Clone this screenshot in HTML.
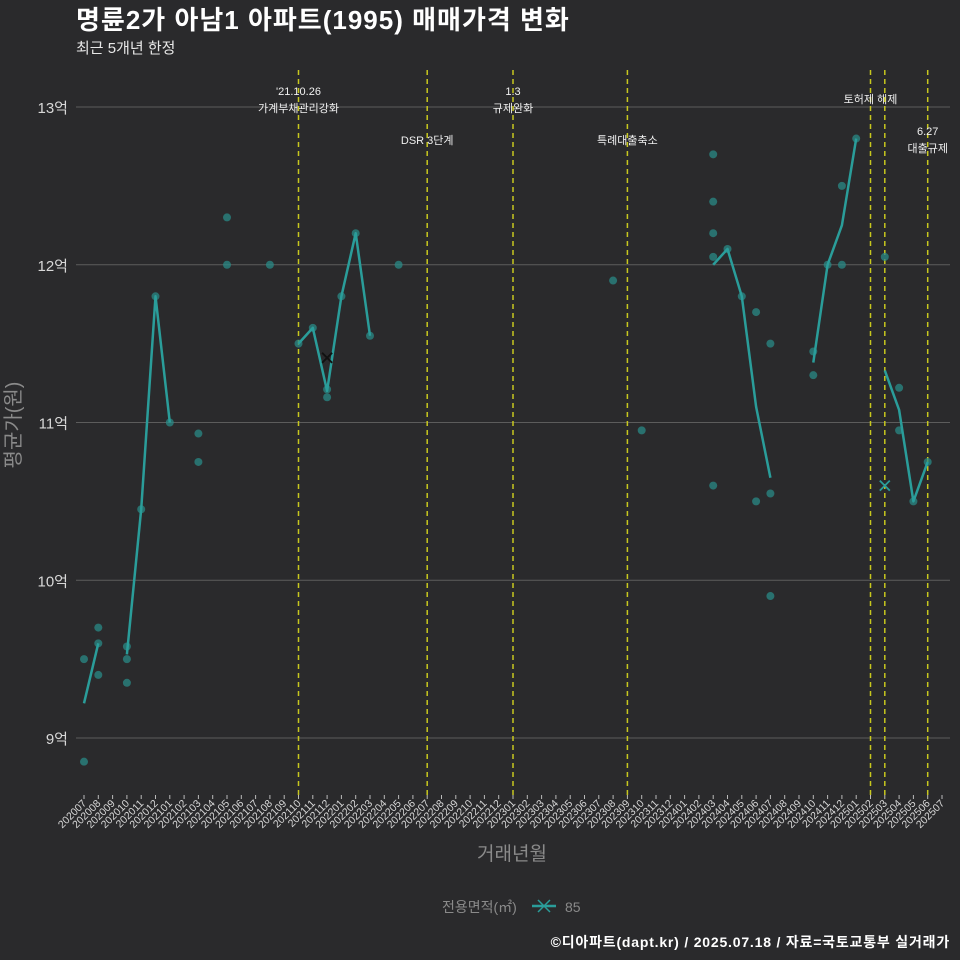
<!DOCTYPE html>
<html><head><meta charset="utf-8">
<style>
html,body{margin:0;padding:0;background:#2a2a2c;}
svg{display:block;font-family:"Liberation Sans","Noto Sans CJK KR",sans-serif;}
</style></head>
<body>
<svg id="chart" width="960" height="960" viewBox="0 0 960 960">
<rect x="0" y="0" width="960" height="960" fill="#2a2a2c"/>
<text x="76" y="29" fill="#ffffff" font-size="26" font-weight="bold" letter-spacing="1">명륜2가 아남1 아파트(1995) 매매가격 변화</text>
<text x="76" y="53" fill="#e8e8e8" font-size="15">최근 5개년 한정</text>
<g id="grid"></g>
<g id="vlines"></g>
<g id="points"></g>
<g id="lines"></g>
<g id="xaxis"></g>
<text x="20" y="425" fill="#8a8a8a" font-size="20" transform="rotate(-90 20 425)" text-anchor="middle">평균가(원)</text>
<text x="512" y="860" fill="#8a8a8a" font-size="19" text-anchor="middle">거래년월</text>
<g>
<text x="442" y="912" fill="#8a8a8a" font-size="14">전용면적(㎡)</text>
<g>
<line x1="532" y1="906" x2="556" y2="906" stroke="#2a9d9a" stroke-width="2.5"/>
<path d="M538 900 L550 912 M550 900 L538 912" stroke="#2a9d9a" stroke-width="1.5"/>
<text x="565" y="912" fill="#8a8a8a" font-size="14">85</text>
</g>
</g>
<text x="950" y="947" fill="#ffffff" font-size="14" font-weight="bold" letter-spacing="0.8" text-anchor="end">©디아파트(dapt.kr) / 2025.07.18 / 자료=국토교통부 실거래가</text>
</svg>
<script>
const months = [];
for (let y = 2020; y <= 2025; y++) for (let m = 1; m <= 12; m++) {
  const k = y * 100 + m; if (k >= 202007 && k <= 202507) months.push(String(k));
}
const yTicks = [9, 10, 11, 12, 13];
const yTickLabels = ['9억', '10억', '11억', '12억', '13억'];
const pointMonths = ['202007','202007','202008','202008','202008','202010','202010','202010','202011','202012','202101','202103','202103','202105','202105','202108','202110','202111','202112','202112','202201','202202','202203','202205','202308','202310','202403','202403','202403','202403','202403','202404','202405','202406','202406','202407','202407','202407','202410','202410','202411','202412','202412','202501','202503','202504','202504','202505','202506'];
const pointValues = [9.50,8.85,9.70,9.60,9.40,9.58,9.50,9.35,10.45,11.80,11.00,10.93,10.75,12.30,12.00,12.00,11.50,11.60,11.21,11.16,11.80,12.20,11.55,12.00,11.90,10.95,12.70,12.40,12.20,12.05,10.60,12.10,11.80,11.70,10.50,11.50,10.55,9.90,11.45,11.30,12.00,12.50,12.00,12.80,12.05,11.22,10.95,10.50,10.75];
const seg1Months = ['202007','202008'];
const seg1Values = [9.22,9.60];
const seg2Months = ['202010','202011','202012','202101'];
const seg2Values = [9.53,10.45,11.80,11.00];
const seg3Months = ['202110','202111','202112','202201','202202','202203'];
const seg3Values = [11.50,11.60,11.20,11.80,12.20,11.55];
const seg4Months = ['202403','202404','202405','202406','202407'];
const seg4Values = [12.00,12.10,11.80,11.10,10.65];
const seg5Months = ['202410','202411','202412','202501'];
const seg5Values = [11.38,12.00,12.25,12.80];
const seg6Months = ['202503','202504','202505','202506'];
const seg6Values = [11.33,11.08,10.50,10.75];
const crossMonths = ['202112','202503'];
const crossValues = [11.41,10.60];
const eventMonths = ['202110','202207','202301','202309','202502','202503','202506'];
const eventLabels = [["'21.10.26","가계부채관리강화"],["DSR 3단계"],["1.3","규제완화"],["특례대출축소"],["토허제 해제"],[],["6.27","대출규제"]];
const eventLabelY = [91,140,91,140,99,0,131];

const NS = 'http://www.w3.org/2000/svg';
const X0 = 84, DX = 14.3, Y13 = 107, PY = 157.75;
const xs = m => X0 + months.indexOf(m) * DX;
const ys = v => Y13 + (13 - v) * PY;
function mk(tag, attrs, parent) {
  const e = document.createElementNS(NS, tag);
  for (const k in attrs) e.setAttribute(k, attrs[k]);
  parent.appendChild(e); return e;
}
const grid = document.getElementById('grid');
yTicks.forEach((t, i) => {
  const l = mk('line', {x1: 76, x2: 950, y1: ys(t), y2: ys(t), stroke: '#5c5c5c', 'stroke-width': 1}, grid);
  
  
  const tx = mk('text', {x: 68, y: ys(t) + 6, fill: '#d8d8d8', 'font-size': 15, 'text-anchor': 'end'}, grid);
  tx.textContent = yTickLabels[i];
  
  
});
const vg = document.getElementById('vlines');
eventMonths.forEach((m, i) => {
  const x = xs(m);
  const l = mk('line', {x1: x, x2: x, y1: 70, y2: 795, stroke: '#c8c81e', 'stroke-width': 1.5, 'stroke-dasharray': '5,4'}, vg);
  
  
  eventLabels[i].forEach((s, j) => {
    const t = mk('text', {x: x, y: eventLabelY[i] + j * 17 + 4, fill: '#f0f0f0', 'font-size': 11, 'text-anchor': 'middle'}, vg);
    t.textContent = s;
    
    
  });
});
const pg = document.getElementById('points');
pointMonths.forEach((m, i) => {
  const c = mk('circle', {cx: xs(m), cy: ys(pointValues[i]), r: 4, fill: '#2a8a86', 'fill-opacity': 0.75}, pg);
  
  
});
const lg = document.getElementById('lines');
[[seg1Months,seg1Values],[seg2Months,seg2Values],[seg3Months,seg3Values],[seg4Months,seg4Values],[seg5Months,seg5Values],[seg6Months,seg6Values]].forEach(([ms, vs]) => {
  const p = mk('polyline', {points: ms.map((m, i) => xs(m) + ',' + ys(vs[i])).join(' '), fill: 'none', stroke: '#2a9d9a', 'stroke-width': 2.5, 'stroke-linejoin': 'round'}, lg);
  
  
});
crossMonths.forEach((m, i) => {
  const x = xs(m), y = ys(crossValues[i]);
  const p = mk('path', {d: `M${x-5} ${y-5} L${x+5} ${y+5} M${x+5} ${y-5} L${x-5} ${y+5}`, stroke: i === 0 ? '#111' : '#2a9d9a', 'stroke-width': 1.8}, lg);
  
  
});
const xg = document.getElementById('xaxis');
months.forEach(m => {
  const x = xs(m);
  const l = mk('line', {x1: x, x2: x, y1: 795, y2: 799, stroke: '#bbbbbb', 'stroke-width': 1}, xg);
  
  
  const t = mk('text', {x: x + 3, y: 804, fill: '#d8d8d8', 'font-size': 10.5, 'text-anchor': 'end', transform: `rotate(-45 ${x + 3} 804)`}, xg);
  t.textContent = m;
  
  
});
</script>
</body></html>
